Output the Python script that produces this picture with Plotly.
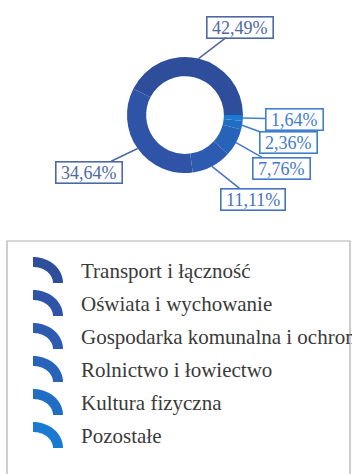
import numpy as np
import plotly.graph_objects as go

W, H = 352, 474

# Budget structure by section (share of total spending, %)
categories = [
    "Transport i łączność",
    "Oświata i wychowanie",
    "Gospodarka komunalna i ochrona środowiska",
    "Rolnictwo i łowiectwo",
    "Kultura fizyczna",
    "Pozostałe",
]
legend_labels = [
    "Transport i łączność",
    "Oświata i wychowanie",
    "Gospodarka komunalna i ochrona",
    "Rolnictwo i łowiectwo",
    "Kultura fizyczna",
    "Pozostałe",
]
shares = [42.49, 34.64, 11.11, 7.76, 2.36, 1.64]
colors = ["#2E4D9B", "#2F54A7", "#2C5BB0", "#2763B9", "#1F6EC4", "#1A7AD1"]
label_colors = ["#4E68A3", "#4C69A6", "#4373C0", "#4379C8", "#417DCD", "#417FD0"]

# Layout (pixel units)
PIE_BOX = (127, 57, 243, 173)          # left, top, right, bottom of the ring
HOLE = 0.67
START_ANGLE = 90                       # first slice ends at 3 o'clock, slices run counterclockwise
label_pos = [(240, 27), (89, 172), (253, 199), (281, 168), (288, 142), (294, 119)]
LEGEND_BOX = (7, 241, 350, 490)
LEGEND_X0, LEGEND_Y0, LEGEND_STEP = 33, 271, 33
TEXT_X = 79
FONT = "'Liberation Serif', 'Times New Roman', serif"

total = sum(shares)
fig = go.Figure()

# In counterclockwise mode plotly places the first slice clockwise of `rotation`,
# so shift by the first slice's sweep to make it end at START_ANGLE.
first_sweep = shares[0] / total * 360

x0, y0, x1, y1 = PIE_BOX
fig.add_trace(go.Pie(
    labels=categories,
    values=shares,
    hole=HOLE,
    sort=False,
    direction="counterclockwise",
    rotation=START_ANGLE - first_sweep,
    marker=dict(colors=colors, line=dict(width=0)),
    textinfo="none",
    showlegend=False,
    domain=dict(x=[x0 / W, x1 / W], y=[1 - y1 / H, 1 - y0 / H]),
))

# Invisible pixel-space axes for labels and legend drawing
fig.add_trace(go.Scatter(x=[0, W], y=[0, H], mode="markers",
                         marker=dict(opacity=0), hoverinfo="skip", showlegend=False))

cx, cy = (x0 + x1) / 2, (y0 + y1) / 2
R = (x1 - x0) / 2

annotations = []
angle = START_ANGLE
for v, (lx, ly), col in zip(shares, label_pos, label_colors):
    span = v / total * 360
    mid = np.radians(angle - span / 2)
    angle -= span
    hx, hy = cx + R * np.sin(mid), cy - R * np.cos(mid)
    txt = "\u00a0" + f"{v:.2f}".replace(".", ",") + "%\u00a0"
    annotations.append(dict(
        x=hx, y=hy, xref="x", yref="y",
        ax=lx, ay=ly, axref="x", ayref="y",
        text=txt, showarrow=True, arrowhead=0, arrowwidth=1.5, arrowcolor=col,
        standoff=0, startstandoff=0,
        font=dict(family=FONT, size=18, color=col),
        bordercolor=col, borderwidth=1.6, borderpad=0, bgcolor="white",
    ))

shapes = [dict(type="rect", xref="x", yref="y",
               x0=LEGEND_BOX[0], y0=LEGEND_BOX[1], x1=LEGEND_BOX[2], y1=LEGEND_BOX[3],
               line=dict(color="#B0B0B0", width=1.2), fillcolor="rgba(0,0,0,0)")]

# Legend keys: quarter-ring arcs in each slice colour
t = np.linspace(0, np.pi / 2, 24)
rx_o, ry_o, rx_i, ry_i = 30, 26, 20, 16
for i, (name, col) in enumerate(zip(legend_labels, colors)):
    yc = LEGEND_Y0 + i * LEGEND_STEP
    ox, oy = LEGEND_X0, yc + 12
    outer = [(ox + rx_o * np.sin(a), oy - ry_o * np.cos(a)) for a in t]
    inner = [(ox + rx_i * np.sin(a), oy - ry_i * np.cos(a)) for a in t[::-1]]
    pts = outer + inner
    path = "M " + " L ".join(f"{px:.2f},{py:.2f}" for px, py in pts) + " Z"
    shapes.append(dict(type="path", xref="x", yref="y", path=path,
                       fillcolor=col, line=dict(width=0)))
    annotations.append(dict(
        x=TEXT_X, y=yc, xref="x", yref="y", xanchor="left", yanchor="middle",
        text=name, showarrow=False,
        font=dict(family=FONT, size=21, color="#3A3A3A"),
    ))

fig.update_layout(
    width=W, height=H,
    margin=dict(l=0, r=0, t=0, b=0),
    paper_bgcolor="white", plot_bgcolor="white",
    xaxis=dict(range=[0, W], visible=False, fixedrange=True),
    yaxis=dict(range=[H, 0], visible=False, fixedrange=True),
    shapes=shapes,
    annotations=annotations,
)

fig.write_html("out.html")
